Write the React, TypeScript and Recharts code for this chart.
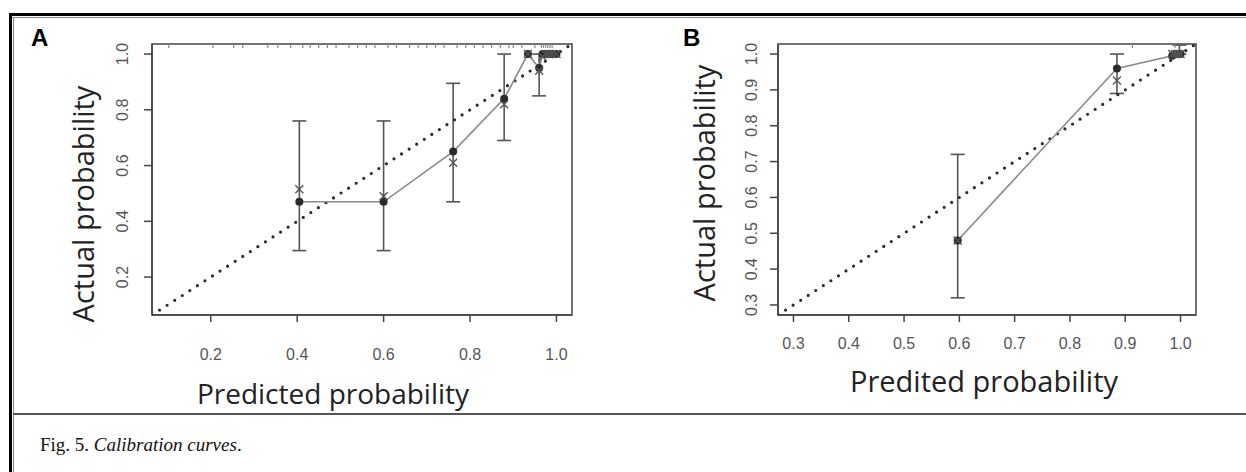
import { ScatterChart, Scatter, XAxis, YAxis, ReferenceArea, ErrorBar } from "recharts";

// panel A: grouped predicted vs observed, R calibrate() style
const aPred = [0.405, 0.6, 0.761, 0.879, 0.934, 0.96, 0.968, 0.975, 0.982, 0.99, 1.0];
const aObs = [0.47, 0.47, 0.65, 0.84, 1.0, 0.95, 1.0, 1.0, 1.0, 1.0, 1.0];
const aCross = [0.515, 0.49, 0.61, 0.82, 1.0, 0.94, 0.99, 1.0, 1.0, 1.0, 1.0];
const aBarPred = [0.405, 0.6, 0.761, 0.879, 0.96];
const aLow = [0.295, 0.295, 0.47, 0.69, 0.85];
const aHigh = [0.76, 0.76, 0.895, 1.0, 1.0];
const aRug = [0.103, 0.205, 0.253, 0.274, 0.332, 0.355, 0.385, 0.413, 0.43, 0.45, 0.47, 0.49, 0.52, 0.54,
  0.56, 0.58, 0.61, 0.63, 0.66, 0.68, 0.7, 0.72, 0.74, 0.77, 0.79, 0.81, 0.83, 0.85, 0.87, 0.89, 0.9,
  0.92, 0.95, 0.965, 0.97, 0.975, 0.98, 0.985, 0.99];
const aTicks = [0.2, 0.4, 0.6, 0.8, 1.0];
const aLim = [0.064, 1.036];

// panel B
const bPred = [0.597, 0.885, 0.985, 0.99, 0.995, 1.0];
const bObs = [0.48, 0.96, 0.995, 1.0, 1.0, 1.0];
const bCross = [0.48, 0.926, 1.0, 1.0, 1.0, 1.0];
const bBarPred = [0.597, 0.885, 0.998];
const bLow = [0.32, 0.89, 1.0];
const bHigh = [0.72, 1.0, 1.025];
const bRug = [0.913, 0.99];
const bTicks = [0.3, 0.4, 0.5, 0.6, 0.7, 0.8, 0.9, 1.0];
const bLim = [0.272, 1.028];

const hidden = () => <g />;
const dot = (p: any) => <circle cx={p.cx} cy={p.cy} r={4} fill="#2b2b2b" />;
const cross = (p: any) => (
  <path d={`M${p.cx - 4},${p.cy - 4}L${p.cx + 4},${p.cy + 4}M${p.cx - 4},${p.cy + 4}L${p.cx + 4},${p.cy - 4}`}
    stroke="#555" strokeWidth={1.4} />
);
const rugMark = (p: any) => <line x1={p.cx} x2={p.cx} y1={p.cy} y2={p.cy + 4} stroke="#888" strokeWidth={1.2} />;

function Panel(props: any) {
  const { pred, obs, crossY, barPred, low, high, rug, ticks, lim, width, height, right, yWidth, xDy, yDx } = props;
  const line = pred.map((x: number, i: number) => ({ x, y: obs[i] }));
  const crosses = pred.map((x: number, i: number) => ({ x, y: crossY[i] }));
  const bars = barPred.map((x: number, i: number) => {
    const mid = obs[pred.indexOf(x)] ?? low[i];
    return { x, y: mid, err: [mid - low[i], high[i] - mid] };
  });
  const rugData = rug.map((x: number) => ({ x, y: lim[1] }));
  const diag = [{ x: lim[0], y: lim[0] }, { x: lim[1], y: lim[1] }];

  const xTick = (p: any) => (
    <text x={p.x} y={p.y + xDy} textAnchor="middle" dominantBaseline="central"
      fontFamily="'Liberation Sans', Arial, sans-serif" fontSize={16} fill="#555">
      {p.payload.value.toFixed(1)}
    </text>
  );
  const yTick = (p: any) => (
    <text x={p.x + yDx} y={p.y} transform={`rotate(-90 ${p.x + yDx} ${p.y})`} textAnchor="middle"
      fontFamily="'Liberation Sans', Arial, sans-serif" fontSize={16} fill="#555">
      {p.payload.value.toFixed(1)}
    </text>
  );

  return (
    <ScatterChart width={width} height={height} margin={{ top: 24, right, bottom: 0, left: 0 }}>
      <XAxis type="number" dataKey="x" domain={lim} ticks={ticks} allowDataOverflow height={85}
        tickSize={7} tickMargin={2} tick={xTick} stroke="#444" strokeWidth={1.5} />
      <YAxis type="number" dataKey="y" domain={lim} ticks={ticks} allowDataOverflow width={yWidth}
        tickSize={8} tickMargin={2} tick={yTick} stroke="#444" strokeWidth={1.5} />
      <ReferenceArea x1={lim[0]} x2={lim[1]} y1={lim[0]} y2={lim[1]} fill="none" stroke="#444"
        strokeWidth={1.5} ifOverflow="visible" />
      <Scatter data={rugData} shape={rugMark} isAnimationActive={false} />
      <Scatter data={diag} shape={hidden} isAnimationActive={false}
        line={{ stroke: "#2b2b2b", strokeWidth: 3.2, strokeDasharray: "0 9", strokeLinecap: "round" }} />
      <Scatter data={line} shape={dot} isAnimationActive={false}
        line={{ stroke: "#8a8a8a", strokeWidth: 1.6 }} />
      <Scatter data={bars} shape={hidden} isAnimationActive={false}>
        <ErrorBar dataKey="err" direction="y" width={7} stroke="#555" strokeWidth={1.6} isAnimationActive={false} />
      </Scatter>
      <Scatter data={crosses} shape={cross} isAnimationActive={false} />
    </ScatterChart>
  );
}

const title: any = {
  position: "absolute", fontFamily: "'Open Sans', 'Noto Sans', sans-serif", color: "#222",
  whiteSpace: "nowrap", transform: "translate(-50%, -50%)",
};
const vTitle: any = { ...title, transform: "translate(-50%, -50%) rotate(-90deg)" };
const letter: any = {
  position: "absolute", fontFamily: "'Liberation Sans', Arial, sans-serif", fontWeight: 700,
  fontSize: 24, color: "#000", lineHeight: "24px",
};

export default function App() {
  return (
    <div style={{ position: "absolute", left: 0, top: 0, width: 1246, height: 472, background: "#fff", overflow: "hidden" }}>
      {/* frame */}
      <div style={{ position: "absolute", left: 9, top: 13, width: 1237, height: 3, background: "#000" }} />
      <div style={{ position: "absolute", left: 12, top: 17, width: 1234, height: 1, background: "#888" }} />
      <div style={{ position: "absolute", left: 9, top: 13, width: 3, height: 459, background: "#000" }} />
      <div style={{ position: "absolute", left: 13, top: 17, width: 1, height: 455, background: "#888" }} />
      <div style={{ position: "absolute", left: 13, top: 413, width: 1233, height: 2, background: "#555" }} />

      <div style={{ ...letter, left: 31, top: 26 }}>A</div>
      <div style={{ ...letter, left: 683, top: 26 }}>B</div>

      <div style={{ position: "absolute", left: 40, top: 20 }}>
        <Panel pred={aPred} obs={aObs} crossY={aCross} barPred={aBarPred} low={aLow} high={aHigh}
          rug={aRug} ticks={aTicks} lim={aLim} width={560} height={380} right={28} yWidth={112} xDy={30} yDx={-14} />
      </div>
      <div style={{ position: "absolute", left: 660, top: 20 }}>
        <Panel pred={bPred} obs={bObs} crossY={bCross} barPred={bBarPred} low={bLow} high={bHigh}
          rug={bRug} ticks={bTicks} lim={bLim} width={570} height={380} right={34} yWidth={118} xDy={19} yDx={-11} />
      </div>

      <div style={{ ...vTitle, left: 82, top: 204, fontSize: 29 }}>Actual probability</div>
      <div style={{ ...title, left: 333, top: 393, fontSize: 28 }}>Predicted probability</div>
      <div style={{ ...vTitle, left: 703, top: 183, fontSize: 29 }}>Actual probability</div>
      <div style={{ ...title, left: 984, top: 380, fontSize: 29 }}>Predited probability</div>

      <div style={{ position: "absolute", left: 40, top: 434, fontFamily: "'Liberation Serif', 'Times New Roman', serif", fontSize: 19, color: "#111" }}>
        Fig. 5. <i>Calibration curves</i>.
      </div>
    </div>
  );
}
